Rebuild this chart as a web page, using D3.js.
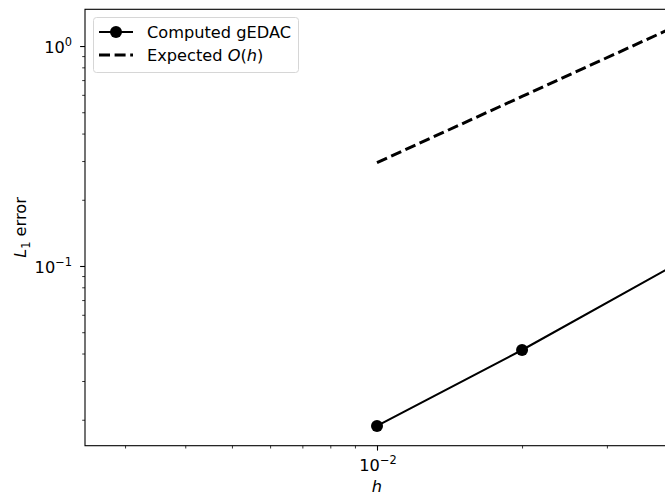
<!DOCTYPE html>
<html>
<head>
<meta charset="utf-8">
<script src="https://cdn.jsdelivr.net/npm/d3@7"></script>
<style>
  body { margin: 0; background: #fff; }
  svg { display: block; overflow: hidden; }
  text { font-family: "DejaVu Sans", sans-serif; fill: #000; }
</style>
</head>
<body>
<svg id="chart" width="665" height="496"></svg>
<script>
// data
var hValues = [0.01, 0.02, 0.05];
var computedError = [0.01875, 0.0415, 0.127];
var expectedError = [0.295, 0.59, 1.475];
var seriesNames = ["Computed gEDAC", "Expected O(h)"];

var xMajor = [0.01];
var xMinor = [0.003, 0.004, 0.005, 0.006, 0.007, 0.008, 0.009, 0.02, 0.03];
var yMajor = [0.1, 1];
var yMinor = [0.02, 0.03, 0.04, 0.05, 0.06, 0.07, 0.08, 0.09,
              0.2, 0.3, 0.4, 0.5, 0.6, 0.7, 0.8, 0.9];
var xTickLabels = ["−2"];
var yTickLabels = ["−1", "0"];

var fontSize = 16.2,
    supSize = 11.4;

var svg = d3.select("#chart"),
    margin = {top: 9.3, left: 85, right: 669, bottom: 445.7};

var x = d3.scaleLog()
    .domain([Math.pow(10, -2.606), Math.pow(10, -1.394)])
    .range([margin.left, margin.right]);
var y = d3.scaleLog()
    .domain([Math.pow(10, -1.817), Math.pow(10, 0.167)])
    .range([margin.bottom, margin.top]);

svg.append("defs").append("clipPath").attr("id", "plotclip")
  .append("rect")
    .attr("x", margin.left).attr("y", margin.top)
    .attr("width", margin.right - margin.left)
    .attr("height", margin.bottom - margin.top);

// axes
function styleAxis(g) {
  g.select(".domain").remove();
  g.selectAll("line").attr("stroke", "#000");
}

var gx = svg.append("g")
    .attr("transform", "translate(0," + margin.bottom + ")");
gx.append("g").call(d3.axisBottom(x).tickValues(xMinor).tickSize(2.8).tickFormat(""))
  .call(styleAxis).selectAll("line").attr("stroke-width", 0.8);
gx.append("g").call(d3.axisBottom(x).tickValues(xMajor).tickSize(4.9).tickFormat(""))
  .call(styleAxis).selectAll("line").attr("stroke-width", 1.1);

var gy = svg.append("g")
    .attr("transform", "translate(" + margin.left + ",0)");
gy.append("g").call(d3.axisLeft(y).tickValues(yMinor).tickSize(2.8).tickFormat(""))
  .call(styleAxis).selectAll("line").attr("stroke-width", 0.8);
gy.append("g").call(d3.axisLeft(y).tickValues(yMajor).tickSize(4.9).tickFormat(""))
  .call(styleAxis).selectAll("line").attr("stroke-width", 1.1);

// tick labels as 10^k
function powerLabel(sel, exp) {
  sel.append("tspan").text("10");
  sel.append("tspan")
    .attr("dy", -7)
    .attr("font-size", supSize)
    .text(exp);
}

xMajor.forEach(function(v, i) {
  svg.append("text")
    .attr("x", x(v) + 1)
    .attr("y", 471)
    .attr("text-anchor", "middle")
    .attr("font-size", fontSize)
    .call(powerLabel, xTickLabels[i]);
});

yMajor.forEach(function(v, i) {
  svg.append("text")
    .attr("x", 72)
    .attr("y", y(v) + 7)
    .attr("text-anchor", "end")
    .attr("font-size", fontSize)
    .call(powerLabel, yTickLabels[i]);
});

// spines
svg.append("rect")
    .attr("x", margin.left).attr("y", margin.top)
    .attr("width", margin.right - margin.left)
    .attr("height", margin.bottom - margin.top)
    .attr("fill", "none")
    .attr("stroke", "#000")
    .attr("stroke-width", 1.1);

// axis labels
svg.append("text")
    .attr("x", (margin.left + margin.right) / 2)
    .attr("y", 492)
    .attr("text-anchor", "middle")
    .attr("font-size", fontSize)
    .attr("font-style", "italic")
    .text("h");

var yl = svg.append("text")
    .attr("transform", "translate(26," + ((margin.top + margin.bottom) / 2) + ") rotate(-90)")
    .attr("text-anchor", "middle")
    .attr("font-size", fontSize);
yl.append("tspan").attr("font-style", "italic").text("L");
yl.append("tspan").attr("font-size", supSize).attr("dy", 3.5).text("1");
yl.append("tspan").attr("dy", -3.5).text(" error");

// lines
var plot = svg.append("g").attr("clip-path", "url(#plotclip)");

var computed = hValues.map(function(h, i) { return [h, computedError[i]]; });
var expected = hValues.map(function(h, i) { return [h, expectedError[i]]; });

var line = d3.line()
    .x(function(d) { return x(d[0]); })
    .y(function(d) { return y(d[1]); });

plot.append("path")
    .datum(expected)
    .attr("d", line)
    .attr("fill", "none")
    .attr("stroke", "#000")
    .attr("stroke-width", 3)
    .attr("stroke-dasharray", "11,4.6");

plot.append("path")
    .datum(computed)
    .attr("d", line)
    .attr("fill", "none")
    .attr("stroke", "#000")
    .attr("stroke-width", 2.1);

plot.selectAll("circle.pt")
    .data(computed)
  .enter().append("circle")
    .attr("class", "pt")
    .attr("cx", function(d) { return x(d[0]); })
    .attr("cy", function(d) { return y(d[1]); })
    .attr("r", 6)
    .attr("fill", "#000");

// legend
var lg = svg.append("g");
lg.append("rect")
    .attr("x", 93.5).attr("y", 17.5)
    .attr("width", 205).attr("height", 55)
    .attr("rx", 3)
    .attr("fill", "#fff")
    .attr("fill-opacity", 0.8)
    .attr("stroke", "#d6d6d6")
    .attr("stroke-width", 1);

lg.append("line")
    .attr("x1", 99).attr("x2", 133).attr("y1", 32).attr("y2", 32)
    .attr("stroke", "#000").attr("stroke-width", 2.1);
lg.append("circle").attr("cx", 116).attr("cy", 32).attr("r", 6).attr("fill", "#000");
lg.append("text")
    .attr("x", 147).attr("y", 37.5)
    .attr("font-size", fontSize)
    .text(seriesNames[0]);

lg.append("line")
    .attr("x1", 99).attr("x2", 133).attr("y1", 55).attr("y2", 55)
    .attr("stroke", "#000").attr("stroke-width", 3)
    .attr("stroke-dasharray", "11,4.6");
var t2 = lg.append("text")
    .attr("x", 147).attr("y", 61)
    .attr("font-size", fontSize);
t2.append("tspan").text("Expected ");
t2.append("tspan").attr("font-style", "italic").text("O");
t2.append("tspan").text("(");
t2.append("tspan").attr("font-style", "italic").text("h");
t2.append("tspan").text(")");
</script>
</body>
</html>
